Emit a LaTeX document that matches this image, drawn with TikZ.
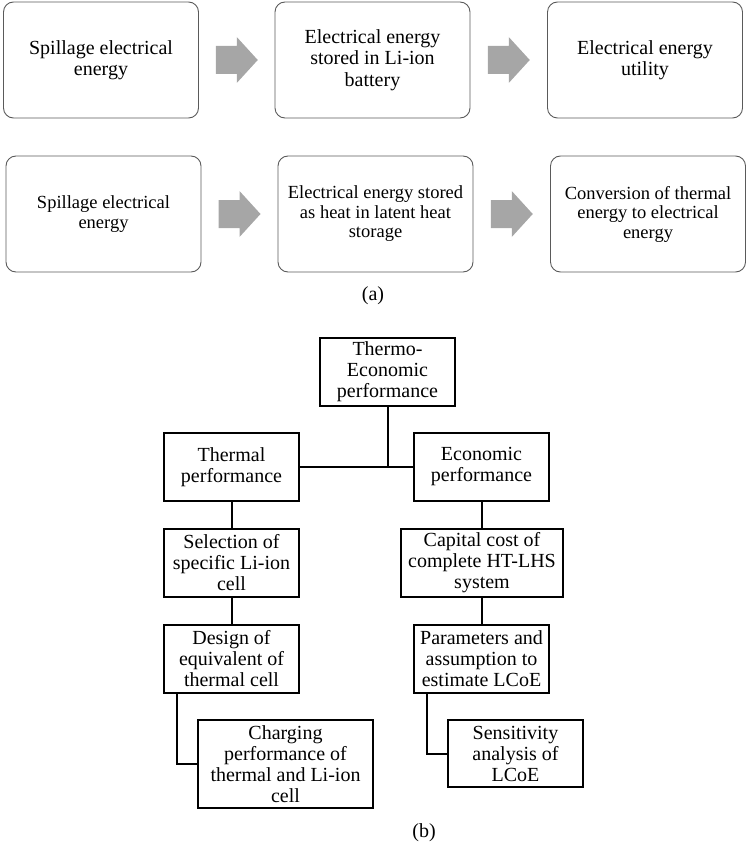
\documentclass[tikz,border=0pt]{standalone}
\usepackage{fontspec}
\setmainfont{Liberation Serif}
\usetikzlibrary{calc}
\definecolor{rboxc}{HTML}{5A5A5A}
\definecolor{arrowgray}{HTML}{A6A6A6}
\newcommand\blockarrowat[1]{\fill[arrowgray,shift={(#1)}] (-21,-14) -- (0,-14) -- (0,-23) -- (21,0) -- (0,23) -- (0,14) -- (-21,14) -- cycle;}
\begin{document}
\begin{tikzpicture}[x=1pt,y=-1pt,
  rboxone/.style={draw=rboxc, line width=0.9pt, rounded corners=10pt, inner sep=0pt, align=center,
    minimum width=195pt, minimum height=116pt, font=\fontsize{20}{21.5}\selectfont},
  rboxtwo/.style={rboxone, font=\fontsize{18.5}{19.5}\selectfont},
  sbox/.style={draw=black, line width=2pt, inner sep=0pt, align=center,
    minimum width=135pt, minimum height=68pt, font=\fontsize{20}{21}\selectfont},
  link/.style={draw=black, line width=2pt},
  caption/.style={font=\fontsize{20}{22}\selectfont, inner sep=0pt}]
\useasboundingbox (0,0) rectangle (747,845);
% ---- (a) row 1
\node[rboxone] (a1) at (101,60) {Spillage electrical\\energy};
\node[rboxone] (a2) at (372.5,60) {Electrical energy\\stored in Li-ion\\battery};
\node[rboxone] (a3) at (645,60) {Electrical energy\\utility};
% ---- (a) row 2
\node[rboxtwo] (b1) at (103.5,214) {Spillage electrical\\energy};
\node[rboxtwo] (b2) at (375.5,214) {Electrical energy stored\\as heat in latent heat\\storage};
\node[rboxtwo] (b3) at (648,214) {Conversion of thermal\\energy to electrical\\energy};
\coordinate (m1) at ($(a1.east)!0.5!(a2.west)$);
\coordinate (m2) at ($(a2.east)!0.5!(a3.west)$);
\coordinate (m3) at ($(b1.east)!0.5!(b2.west)$);
\coordinate (m4) at ($(b2.east)!0.5!(b3.west)$);
\blockarrowat{m1}
\blockarrowat{m2}
\blockarrowat{m3}
\blockarrowat{m4}
\node[caption] (capa) at (373,296) {(a)};
% ---- (b)
\node[sbox] (te) at (387.5,372) {Thermo-\\Economic\\performance};
\node[sbox] (th) at (231.5,467) {Thermal\\performance};
\node[sbox] (ec) at (481.5,467) {Economic\\performance};
\node[sbox] (sel) at (231.5,563) {Selection of\\specific Li-ion\\cell};
\node[sbox, minimum width=162pt] (cap) at (482,563) {Capital cost of\\complete HT-LHS\\system};
\node[sbox] (des) at (231.5,659) {Design of\\equivalent of\\thermal cell};
\node[sbox] (par) at (481.5,659) {Parameters and\\assumption to\\estimate LCoE};
\node[sbox, minimum width=175pt, minimum height=88pt] (chg) at (285.5,764) {Charging\\performance of\\thermal and Li-ion\\cell};
\node[sbox, minimum height=67pt] (sen) at (515.5,753.5) {Sensitivity\\analysis of\\LCoE};
\node[caption] (capb) at (424,833) {(b)};
\draw[link] (th.east) -- (ec.west);
\draw[link] (te.south) -- (te.south |- th.east);
\draw[link] (th.south) -- (sel.north);
\draw[link] (sel.south) -- (des.north);
\draw[link] (ec.south) -- (ec.south |- cap.north);
\draw[link] (cap.south) -- (cap.south |- par.north);
\draw[link] ($(des.south west)+(14,0)$) |- (chg.west);
\draw[link] ($(par.south west)+(14,0)$) |- (sen.west);
\end{tikzpicture}
\end{document}
